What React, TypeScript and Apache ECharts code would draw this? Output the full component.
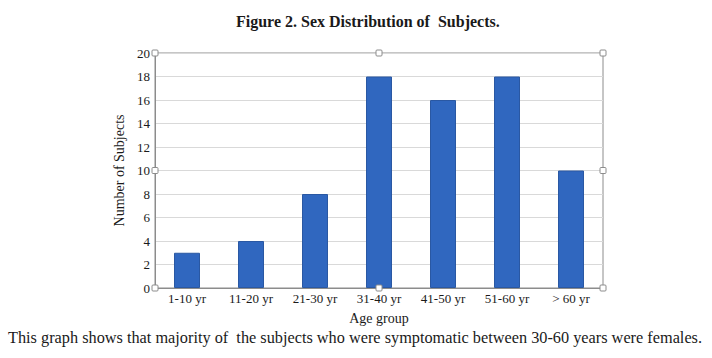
import React, { useEffect, useRef } from "react";
import * as echarts from "echarts";

const categories = ["1-10 yr", "11-20 yr", "21-30 yr", "31-40 yr", "41-50 yr", "51-60 yr", "> 60 yr"];
const subjects = [3, 4, 8, 18, 16, 18, 10];
const titleText = "Figure 2. Sex Distribution of  Subjects.";
const captionText = "This graph shows that majority of  the subjects who were symptomatic between 30-60 years were females.";

const FONT = "'Liberation Serif', serif";

export default function App() {
  const ref = useRef<HTMLDivElement>(null);
  useEffect(() => {
    const chart = echarts.init(ref.current!, undefined, { renderer: "svg" });
    const L = 155, R = 603, T = 53, B = 288;
    const handles: [number, number][] = [
      [L, T], [(L + R) / 2, T], [R, T],
      [L, (T + B) / 2], [R, (T + B) / 2],
      [L, B], [(L + R) / 2, B], [R, B],
    ];
    chart.setOption({
      animation: false,
      backgroundColor: "#ffffff",
      title: {
        text: titleText,
        left: 231,
        top: 8,
        textStyle: { fontFamily: FONT, fontSize: 16, fontWeight: "bold", color: "#1a1a1a" },
      },
      grid: { left: L, right: 712 - R, top: T, bottom: 358 - B, show: true, borderColor: "#8c8c8c", borderWidth: 1 },
      xAxis: {
        type: "category",
        data: categories,
        name: "Age group",
        nameLocation: "middle",
        nameGap: 23,
        nameTextStyle: { fontFamily: FONT, fontSize: 14, color: "#1a1a1a" },
        axisLine: { show: true, lineStyle: { color: "#8c8c8c", width: 1 } },
        axisTick: { show: false },
        axisLabel: { fontFamily: FONT, fontSize: 13, color: "#1a1a1a", margin: 4, interval: 0 },
      },
      yAxis: {
        type: "value",
        min: 0,
        max: 20,
        interval: 2,
        name: "Number of Subjects",
        nameLocation: "middle",
        nameGap: 27,
        nameTextStyle: { fontFamily: FONT, fontSize: 14, color: "#1a1a1a" },
        axisLine: { show: true, lineStyle: { color: "#8c8c8c", width: 1 } },
        axisTick: { show: false },
        axisLabel: { fontFamily: FONT, fontSize: 13, color: "#1a1a1a", margin: 5 },
        splitLine: { show: true, lineStyle: { color: "#d9d9d9", width: 1 } },
      },
      series: [
        {
          type: "bar",
          data: subjects,
          barWidth: 26,
          itemStyle: { color: "#3067bf", borderColor: "#2a58a3", borderWidth: 1 },
        },
      ],
      graphic: [
        ...handles.map(([x, y]) => ({
          type: "rect",
          shape: { x: x - 3, y: y - 3, width: 6, height: 6, r: 1 },
          style: { fill: "#ffffff", stroke: "#8c8c8c", lineWidth: 1 },
          z: 10,
        })),
        {
          type: "text",
          left: 8,
          top: 329,
          style: { text: captionText, fontFamily: FONT, fontSize: 16.3, fill: "#1a1a1a" },
        },
      ],
    });
    return () => chart.dispose();
  }, []);
  return <div ref={ref} style={{ position: "fixed", left: 0, top: 0, width: 712, height: 358 }} />;
}
